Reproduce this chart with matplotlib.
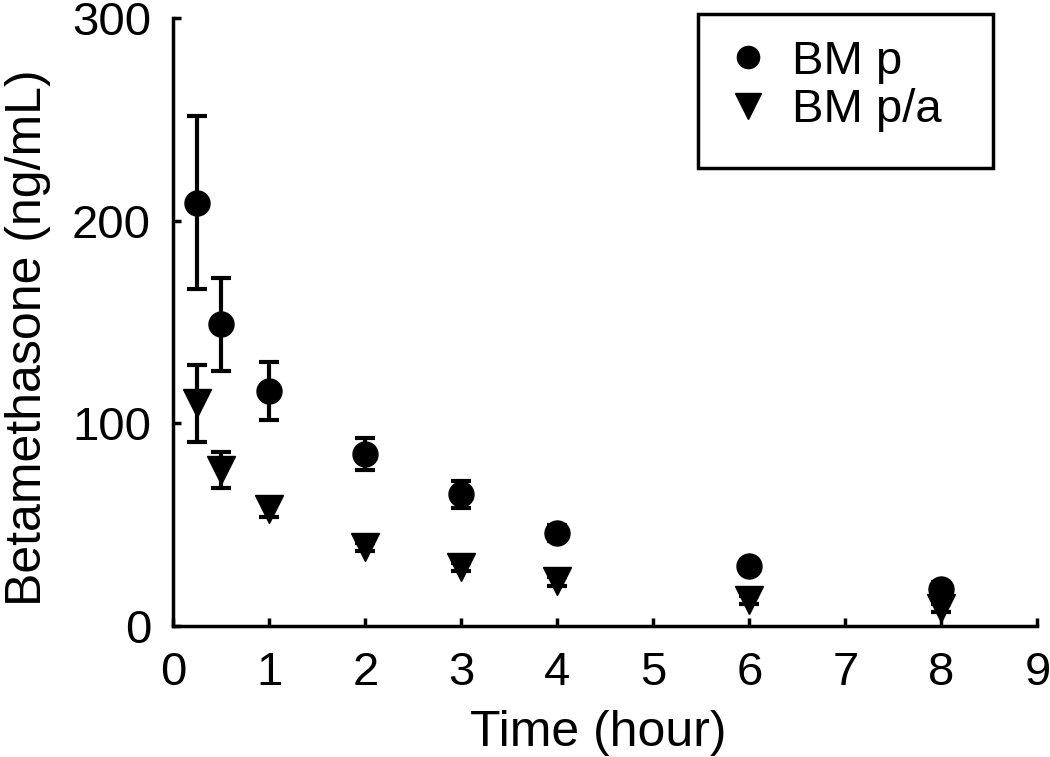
import matplotlib
matplotlib.use("Agg")
import matplotlib.pyplot as plt
from matplotlib.lines import Line2D
from matplotlib.patches import Rectangle

plt.rcParams['font.family'] = ['Liberation Sans', 'DejaVu Sans']

time_h = [0.25, 0.5, 1, 2, 3, 4, 6, 8]
bm_p = [209, 149, 116, 85, 65, 46, 29.5, 18.5]
bm_p_err = [42.5, 23, 14.5, 8, 6.5, 4, 3, 3]
bm_pa = [110, 77, 58, 39, 29, 22, 13, 9]
bm_pa_err = [19, 9, 4, 2, 2, 2, 2, 2]

labels = ["BM p", "BM p/a"]
xticks = [0, 1, 2, 3, 4, 5, 6, 7, 8, 9]
yticks = [0, 100, 200, 300]

W, H = 1050, 757
fig = plt.figure(figsize=(10.5, 7.57), dpi=100)
ax = fig.add_axes([0.165, 0.173, 0.823, 0.803])

ax.errorbar(time_h, bm_p, yerr=bm_p_err, fmt='o', color='black', ms=18,
            elinewidth=3, capsize=7, capthick=3, zorder=3)
ax.errorbar(time_h, bm_pa, yerr=bm_pa_err, fmt='v', color='black', ms=20,
            elinewidth=3, capsize=7, capthick=3, zorder=3)

ax.set_xlim(0, 9)
ax.set_ylim(0, 300)
ax.set_xticks(xticks)
ax.set_yticks(yticks)
for s in ['top', 'right']:
    ax.spines[s].set_visible(False)
for s in ['left', 'bottom']:
    ax.spines[s].set_linewidth(2.5)
ax.tick_params(direction='in', length=6, width=2.5, labelsize=34)
ax.tick_params(axis='x', pad=18)
ax.tick_params(axis='y', pad=16)
ax.set_xlabel("Time (hour)", fontsize=36)
ax.set_ylabel("Betamethasone (ng/mL)", fontsize=36)
ax.xaxis.set_label_coords(0.492, -0.138)
ax.yaxis.set_label_coords(-0.142, 0.475)

handles = [Line2D([], [], marker='o', ls='none', color='black', ms=16),
           Line2D([], [], marker='v', ls='none', color='black', ms=19)]
leg = ax.legend(handles, labels, loc='upper left',
                bbox_to_anchor=(698 / W, 1 - 9 / H), bbox_transform=fig.transFigure,
                fontsize=34, frameon=False, borderpad=0.65,
                labelspacing=0.1, handlelength=0.83, handletextpad=0.5,
                borderaxespad=0)

# legend frame
fig.patches.append(Rectangle((698 / W, 1 - 168 / H), (993 - 698) / W, (168 - 14) / H,
                             transform=fig.transFigure, fill=False,
                             edgecolor='black', linewidth=2.5, zorder=5))

fig.savefig("out.png", dpi=100)
